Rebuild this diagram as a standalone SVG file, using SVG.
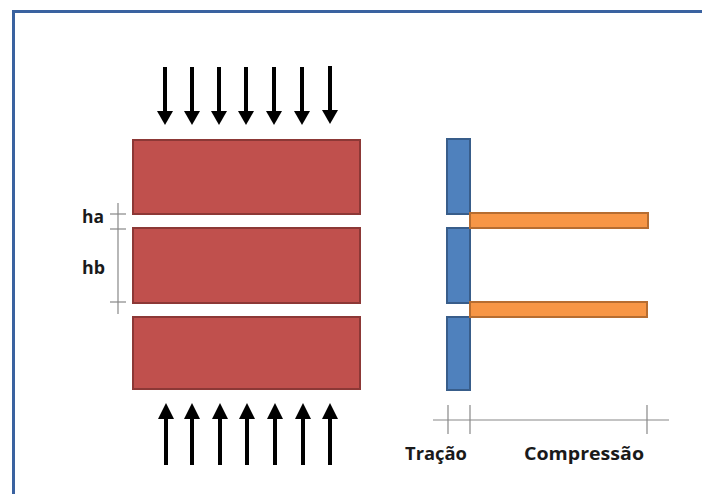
<svg xmlns="http://www.w3.org/2000/svg" width="702" height="494" viewBox="0 0 702 494">
<defs>
<style>
.red{fill:#C0504D;stroke:#8C3836;stroke-width:2}
.blue{fill:#4F81BD;stroke:#385D8A;stroke-width:2}
.orange{fill:#F79646;stroke:#B66D31;stroke-width:2}
.shaft{stroke:#000;stroke-width:4}
.head{fill:#000}
.dim{stroke:#888;stroke-width:1.2;fill:none}
.lbl{font-family:"Open Sans","Liberation Sans",sans-serif;font-weight:bold;fill:#1a1a1a}
</style>
<g id="arrowDown">
<line class="shaft" x1="0" y1="0" x2="0" y2="46"/>
<polygon class="head" points="-8,44 8,44 0,58"/>
</g>
<g id="arrowUp">
<line class="shaft" x1="0" y1="14" x2="0" y2="62"/>
<polygon class="head" points="-8,16 8,16 0,0"/>
</g>
</defs>
<rect width="702" height="494" fill="#fff"/>
<path d="M13.5 494 V11.5 H702" fill="none" stroke="#3A62A0" stroke-width="3"/>

<g id="forces-top">
<use href="#arrowDown" x="165" y="67"/>
<use href="#arrowDown" x="192" y="67"/>
<use href="#arrowDown" x="219" y="67"/>
<use href="#arrowDown" x="246" y="67"/>
<use href="#arrowDown" x="274" y="67"/>
<use href="#arrowDown" x="302" y="67"/>
<use href="#arrowDown" x="330" y="66"/>
</g>
<g id="forces-bottom">
<use href="#arrowUp" x="166" y="403"/>
<use href="#arrowUp" x="192" y="403"/>
<use href="#arrowUp" x="220" y="403"/>
<use href="#arrowUp" x="247" y="403"/>
<use href="#arrowUp" x="275" y="403"/>
<use href="#arrowUp" x="303" y="403"/>
<use href="#arrowUp" x="330" y="403"/>
</g>

<g id="block1"><rect class="red" x="133" y="140" width="227" height="74"/></g>
<g id="block2"><rect class="red" x="133" y="228" width="227" height="75"/></g>
<g id="block3"><rect class="red" x="133" y="317" width="227" height="72"/></g>

<g id="dimension">
<line class="dim" x1="118" y1="203" x2="118" y2="314"/>
<line class="dim" x1="110" y1="214" x2="126" y2="214"/>
<line class="dim" x1="110" y1="229" x2="126" y2="229"/>
<line class="dim" x1="110" y1="302" x2="126" y2="302"/>
<text class="lbl" x="82" y="223" font-size="18" textLength="22" lengthAdjust="spacingAndGlyphs">ha</text>
<text class="lbl" x="82" y="274" font-size="18" textLength="23" lengthAdjust="spacingAndGlyphs">hb</text>
</g>

<g id="tension1"><rect class="blue" x="447" y="139" width="23" height="75"/></g>
<g id="tension2"><rect class="blue" x="447" y="228" width="23" height="75"/></g>
<g id="tension3"><rect class="blue" x="447" y="317" width="23" height="73"/></g>
<g id="compression1"><rect class="orange" x="470" y="213" width="178" height="15"/></g>
<g id="compression2"><rect class="orange" x="470" y="302" width="177" height="15"/></g>

<g id="axis">
<line class="dim" x1="433" y1="420" x2="669" y2="420"/>
<line class="dim" x1="448" y1="405" x2="448" y2="434"/>
<line class="dim" x1="470" y1="405" x2="470" y2="434"/>
<line class="dim" x1="647" y1="405" x2="647" y2="434"/>
<text class="lbl" x="405" y="460" font-size="18" textLength="62" lengthAdjust="spacingAndGlyphs">Tração</text>
<text class="lbl" x="524" y="460" font-size="18" textLength="120" lengthAdjust="spacingAndGlyphs">Compressão</text>
</g>
</svg>
